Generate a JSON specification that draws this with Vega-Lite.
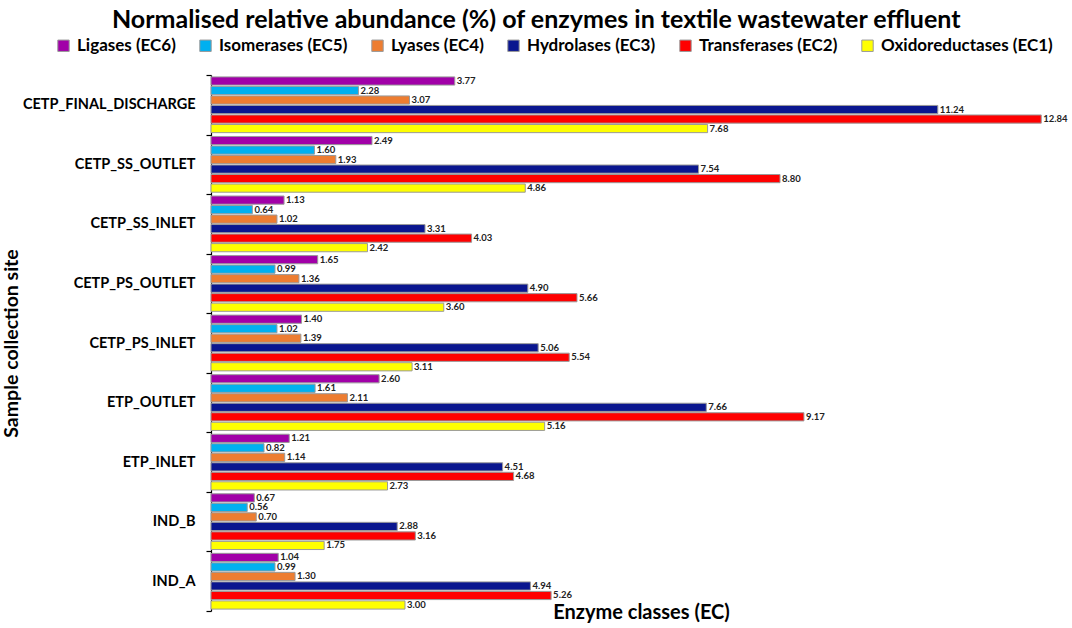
{
  "$schema": "https://vega.github.io/schema/vega-lite/v6.json",
  "autosize": {"type": "none"},
  "padding": {"left": 211, "top": 75, "right": 1, "bottom": 17},
  "width": 860,
  "height": 536,
  "title": {
    "text": "Normalised relative abundance (%) of enzymes in textile wastewater effluent",
    "font": "Lato", "fontSize": 25, "fontWeight": "bold", "color": "#000000",
    "anchor": "middle", "frame": "bounds", "offset": 4
  },
  "data": {
    "values": [
      {"site": "CETP_FINAL_DISCHARGE", "Ligases (EC6)": 3.77, "Isomerases (EC5)": 2.28, "Lyases (EC4)": 3.07, "Hydrolases (EC3)": 11.24, "Transferases (EC2)": 12.84, "Oxidoreductases (EC1)": 7.68},
      {"site": "CETP_SS_OUTLET", "Ligases (EC6)": 2.49, "Isomerases (EC5)": 1.60, "Lyases (EC4)": 1.93, "Hydrolases (EC3)": 7.54, "Transferases (EC2)": 8.80, "Oxidoreductases (EC1)": 4.86},
      {"site": "CETP_SS_INLET", "Ligases (EC6)": 1.13, "Isomerases (EC5)": 0.64, "Lyases (EC4)": 1.02, "Hydrolases (EC3)": 3.31, "Transferases (EC2)": 4.03, "Oxidoreductases (EC1)": 2.42},
      {"site": "CETP_PS_OUTLET", "Ligases (EC6)": 1.65, "Isomerases (EC5)": 0.99, "Lyases (EC4)": 1.36, "Hydrolases (EC3)": 4.90, "Transferases (EC2)": 5.66, "Oxidoreductases (EC1)": 3.60},
      {"site": "CETP_PS_INLET", "Ligases (EC6)": 1.40, "Isomerases (EC5)": 1.02, "Lyases (EC4)": 1.39, "Hydrolases (EC3)": 5.06, "Transferases (EC2)": 5.54, "Oxidoreductases (EC1)": 3.11},
      {"site": "ETP_OUTLET", "Ligases (EC6)": 2.60, "Isomerases (EC5)": 1.61, "Lyases (EC4)": 2.11, "Hydrolases (EC3)": 7.66, "Transferases (EC2)": 9.17, "Oxidoreductases (EC1)": 5.16},
      {"site": "ETP_INLET", "Ligases (EC6)": 1.21, "Isomerases (EC5)": 0.82, "Lyases (EC4)": 1.14, "Hydrolases (EC3)": 4.51, "Transferases (EC2)": 4.68, "Oxidoreductases (EC1)": 2.73},
      {"site": "IND_B", "Ligases (EC6)": 0.67, "Isomerases (EC5)": 0.56, "Lyases (EC4)": 0.70, "Hydrolases (EC3)": 2.88, "Transferases (EC2)": 3.16, "Oxidoreductases (EC1)": 1.75},
      {"site": "IND_A", "Ligases (EC6)": 1.04, "Isomerases (EC5)": 0.99, "Lyases (EC4)": 1.30, "Hydrolases (EC3)": 4.94, "Transferases (EC2)": 5.26, "Oxidoreductases (EC1)": 3.00}
    ]
  },
  "transform": [
    {"fold": ["Ligases (EC6)", "Isomerases (EC5)", "Lyases (EC4)", "Hydrolases (EC3)", "Transferases (EC2)", "Oxidoreductases (EC1)"], "as": ["ec", "value"]}
  ],
  "encoding": {
    "y": {
      "field": "site", "type": "nominal",
      "sort": ["CETP_FINAL_DISCHARGE", "CETP_SS_OUTLET", "CETP_SS_INLET", "CETP_PS_OUTLET", "CETP_PS_INLET", "ETP_OUTLET", "ETP_INLET", "IND_B", "IND_A"],
      "scale": {"paddingInner": 0, "paddingOuter": 0},
      "axis": {
        "title": "Sample collection site", "titleFont": "Lato", "titleFontSize": 19.5, "titleFontWeight": "bold", "titleColor": "#000000", "titlePadding": 1,
        "labelFont": "Lato", "labelFontSize": 14.5, "labelFontWeight": "bold", "labelColor": "#000000", "labelPadding": 11,
        "domainColor": "#000000", "domainWidth": 1.2, "tickColor": "#000000", "tickSize": 5, "tickWidth": 1.2, "tickBand": "extent", "grid": false
      }
    },
    "yOffset": {
      "field": "ec", "type": "nominal",
      "sort": ["Ligases (EC6)", "Isomerases (EC5)", "Lyases (EC4)", "Hydrolases (EC3)", "Transferases (EC2)", "Oxidoreductases (EC1)"],
      "scale": {"paddingInner": 0.14, "paddingOuter": 0.2}
    },
    "x": {
      "field": "value", "type": "quantitative",
      "scale": {"domain": [0, 13.3], "nice": false},
      "axis": {
        "title": "Enzyme classes (EC)", "titleFont": "Lato", "titleFontSize": 20, "titleFontWeight": "bold", "titleColor": "#000000",
        "titleBaseline": "middle", "titlePadding": 1,
        "labels": false, "ticks": false, "domain": false, "grid": false
      }
    }
  },
  "layer": [
    {
      "mark": {"type": "bar", "stroke": "#9a9a9a", "strokeWidth": 1},
      "encoding": {
        "color": {
          "field": "ec", "type": "nominal",
          "sort": ["Ligases (EC6)", "Isomerases (EC5)", "Lyases (EC4)", "Hydrolases (EC3)", "Transferases (EC2)", "Oxidoreductases (EC1)"],
          "scale": {
            "domain": ["Ligases (EC6)", "Isomerases (EC5)", "Lyases (EC4)", "Hydrolases (EC3)", "Transferases (EC2)", "Oxidoreductases (EC1)"],
            "range": ["#a100a8", "#00b0f0", "#ed7d31", "#0a168f", "#ff0000", "#ffff00"]
          },
          "legend": {
            "title": null, "orient": "none", "direction": "horizontal", "legendX": -156, "legendY": -38,
            "symbolType": "square", "symbolSize": 130, "symbolStrokeColor": "#9a9a9a", "symbolStrokeWidth": 1,
            "labelFont": "Lato", "labelFontSize": 17, "labelFontWeight": "bold", "labelColor": "#000000", "labelLimit": 0,
            "columnPadding": 21, "labelOffset": 5
          }
        }
      }
    },
    {
      "mark": {"type": "text", "align": "left", "baseline": "middle", "dx": 2, "font": "Lato", "fontSize": 9.5, "fontWeight": "bold", "color": "#222222"},
      "encoding": {
        "text": {"field": "value", "type": "quantitative", "format": ".2f"}
      }
    }
  ],
  "config": {"view": {"stroke": null}}
}
